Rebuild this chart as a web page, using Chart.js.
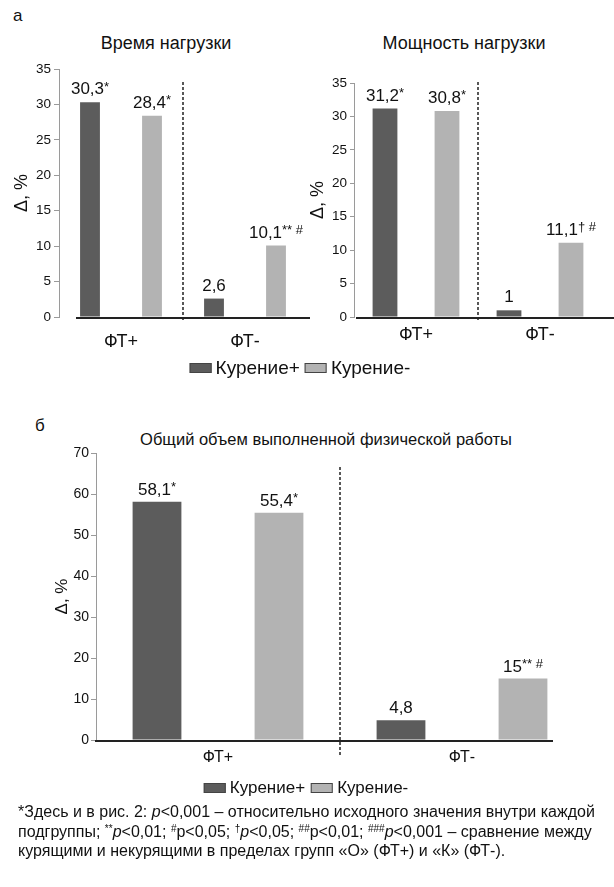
<!DOCTYPE html>
<html lang="ru">
<head>
<meta charset="utf-8">
<script src="https://cdn.jsdelivr.net/npm/chart.js@4.4.1/dist/chart.umd.min.js"></script>
<style>
  html, body { margin: 0; padding: 0; background: #fff; }
  body { width: 614px; height: 887px; position: relative; overflow: hidden;
         font-family: "Liberation Sans", Arial, sans-serif; color: #111; }
  .abs { position: absolute; }
  .c { transform: translate(-50%, -50%); white-space: nowrap; }
  .panel { position: absolute; }
  .legend { position: absolute; display: flex; align-items: center; white-space: nowrap; transform: translate(-50%, -50%); }
  .box { display: inline-block; border: 1px solid #444; box-sizing: border-box; }
  .foot { position: absolute; left: 18px; top: 802px; font-size: 16px; line-height: 19.5px; white-space: nowrap; color: #111; }
  .foot sup { font-size: 10px; vertical-align: 5px; line-height: 0; }
</style>
</head>
<body>
<div class="abs" style="left:13px; top:6px; font-size:17px;">а</div>
<div class="abs c" style="left:166px; top:43px; font-size:18px;">Время нагрузки</div>
<div class="abs c" style="left:464px; top:43px; font-size:18px;">Мощность нагрузки</div>

<div class="panel" style="left:0; top:50px;"><canvas id="chA1" width="310" height="310"></canvas></div>
<div class="panel" style="left:300px; top:50px;"><canvas id="chA2" width="314" height="310"></canvas></div>

<div class="legend" id="legA" style="left:300px; top:368px; font-size:19px;"></div>

<div class="abs" style="left:35px; top:416px; font-size:17px;">б</div>
<div class="abs c" style="left:326px; top:439px; font-size:16.5px;">Общий объем выполненной физической работы</div>

<div class="panel" style="left:0; top:410px;"><canvas id="chB" width="614" height="370"></canvas></div>

<div class="legend" id="legB" style="left:306px; top:788px; font-size:17px;"></div>

<div class="foot">*Здесь и в рис. 2: <i>p</i>&lt;0,001 – относительно исходного значения внутри каждой<br>подгруппы; <sup>**</sup><i>p</i>&lt;0,01; <sup>#</sup>p&lt;0,05; <sup>†</sup><i>p</i>&lt;0,05; <sup>##</sup>p&lt;0,01; <sup>###</sup><i>p</i>&lt;0,001 – сравнение между<br>курящими и некурящими в пределах групп «О» (ФТ+) и «К» (ФТ-).</div>

<script>
// ---------- data ----------
const categories = ['ФТ+', 'ФТ-'];
const seriesNames = ['Курение+', 'Курение-'];

const timeSmokers = [30.3, 2.6];
const timeNonSmokers = [28.4, 10.1];
const timeLabelsSmokers = ['30,3*', '2,6'];
const timeLabelsNonSmokers = ['28,4*', '10,1** #'];

const powerSmokers = [31.2, 1];
const powerNonSmokers = [30.8, 11.1];
const powerLabelsSmokers = ['31,2*', '1'];
const powerLabelsNonSmokers = ['30,8*', '11,1† #'];

const workSmokers = [58.1, 4.8];
const workNonSmokers = [55.4, 15];
const workLabelsSmokers = ['58,1*', '4,8'];
const workLabelsNonSmokers = ['55,4*', '15** #'];

const axisTitle = 'Δ, %';

// ---------- styles ----------
const FONT = '"Liberation Sans", Arial, sans-serif';
const DARK = '#5c5c5c';
const LIGHT = '#b3b3b3';
const TEXT = '#111';

// legends (HTML)
function buildLegend(id, boxW, boxH, gap) {
  const el = document.getElementById(id);
  const cols = [DARK, LIGHT];
  seriesNames.forEach((n, i) => {
    const b = document.createElement('span');
    b.className = 'box';
    b.style.width = boxW + 'px'; b.style.height = boxH + 'px';
    b.style.background = cols[i];
    b.style.marginRight = '4px';
    if (i > 0) b.style.marginLeft = gap + 'px';
    el.appendChild(b);
    const t = document.createElement('span');
    t.textContent = n;
    el.appendChild(t);
  });
}
buildLegend('legA', 22, 10, 5);
buildLegend('legB', 22, 10, 6);

// ---------- plugins ----------
// value labels: numeric part at full size, significance marks smaller and raised
const valueLabels = {
  id: 'valueLabels',
  afterDatasetsDraw(chart, args, opts) {
    const ctx = chart.ctx;
    const big = opts.size + 'px ' + FONT;
    const small = Math.round(opts.size * 0.78) + 'px ' + FONT;
    ctx.save();
    ctx.fillStyle = TEXT;
    ctx.textBaseline = 'alphabetic';
    ctx.textAlign = 'left';
    chart.data.datasets.forEach((ds, di) => {
      const meta = chart.getDatasetMeta(di);
      meta.data.forEach((bar, i) => {
        const txt = ds.valueLabels[i];
        const m = txt.match(/^[0-9,]+/);
        const main = m ? m[0] : txt;
        const suf = txt.slice(main.length);
        ctx.font = big; const w1 = ctx.measureText(main).width;
        ctx.font = small; const w2 = suf ? ctx.measureText(suf).width : 0;
        const x0 = bar.x - (w1 + w2) / 2;
        const base = bar.y - opts.offset + opts.size * 0.36;
        ctx.font = big; ctx.fillText(main, x0, base);
        if (suf) { ctx.font = small; ctx.fillText(suf, x0 + w1, base - opts.size * 0.22); }
      });
    });
    ctx.restore();
  }
};

const groupDivider = {
  id: 'groupDivider',
  afterDraw(chart, args, opts) {
    const {ctx, chartArea} = chart;
    const xs = chart.scales.x;
    const x = (xs.getPixelForValue(0) + xs.getPixelForValue(1)) / 2;
    ctx.save();
    ctx.strokeStyle = '#222';
    ctx.lineWidth = 1.5;
    ctx.setLineDash([3, 2]);
    ctx.beginPath();
    ctx.moveTo(x, chartArea.top + opts.topOffset);
    ctx.lineTo(x, chartArea.bottom + opts.bottomOffset);
    ctx.stroke();
    ctx.restore();
  }
};

const baseLine = {
  id: 'baseLine',
  afterDatasetsDraw(chart, args, opts) {
    const {ctx, chartArea} = chart;
    const y = chart.scales.y.getPixelForValue(0) + 1;
    ctx.save();
    ctx.strokeStyle = '#222';
    ctx.lineWidth = 2;
    ctx.beginPath();
    ctx.moveTo(chartArea.left + opts.startOffset, y);
    ctx.lineTo(chartArea.right + opts.endOffset, y);
    ctx.stroke();
    ctx.restore();
  }
};

function makeChart(id, cfg) {
  return new Chart(document.getElementById(id), {
    type: 'bar',
    data: {
      labels: categories,
      datasets: [
        { label: seriesNames[0], data: cfg.a, valueLabels: cfg.la, backgroundColor: DARK,
          barPercentage: cfg.barPct, categoryPercentage: 1 },
        { label: seriesNames[1], data: cfg.b, valueLabels: cfg.lb, backgroundColor: LIGHT,
          barPercentage: cfg.barPct, categoryPercentage: 1 }
      ]
    },
    options: {
      responsive: false,
      animation: false,
      events: [],
      layout: { padding: cfg.padding },
      plugins: {
        legend: { display: false },
        tooltip: { enabled: false },
        title: { display: false },
        valueLabels: { size: cfg.labelSize, offset: cfg.labelOffset },
        groupDivider: cfg.divider,
        baseLine: cfg.baseLine
      },
      scales: {
        x: {
          grid: { display: false, drawTicks: false },
          border: { display: false },
          ticks: { color: TEXT, font: { family: FONT, size: cfg.xFont }, padding: cfg.xPad },
          afterFit: s => { s.height = cfg.xHeight; }
        },
        y: {
          min: 0, max: cfg.max,
          ticks: { stepSize: cfg.step, color: TEXT, font: { family: FONT, size: cfg.yFont }, padding: cfg.yPad },
          grid: { drawOnChartArea: false, drawTicks: true, tickLength: cfg.tickLen, color: '#9a9a9a' },
          border: { display: true, color: '#9a9a9a', width: 1 },
          title: { display: true, text: axisTitle, color: TEXT, font: { family: FONT, size: cfg.titleFont },
                   padding: { top: cfg.titlePad, bottom: 0 } },
          afterFit: s => { s.width = cfg.yWidth; }
        }
      }
    },
    plugins: [valueLabels, groupDivider, baseLine]
  });
}

makeChart('chA1', {
  a: timeSmokers, b: timeNonSmokers, la: timeLabelsSmokers, lb: timeLabelsNonSmokers,
  barPct: 0.32, max: 35, step: 5,
  padding: { left: 0, right: 3, top: 19, bottom: 0 },
  xHeight: 43, xPad: 14, xFont: 18,
  yWidth: 59, yFont: 13.5, yPad: 3, tickLen: 5,
  titleFont: 18, titlePad: 11,
  labelSize: 17, labelOffset: 14,
  divider: { topOffset: 13, bottomOffset: 5 },
  baseLine: { startOffset: 17, endOffset: 21 }
});

makeChart('chA2', {
  a: powerSmokers, b: powerNonSmokers, la: powerLabelsSmokers, lb: powerLabelsNonSmokers,
  barPct: 0.40, max: 35, step: 5,
  padding: { left: 0, right: 12, top: 33, bottom: 0 },
  xHeight: 43, xPad: 7, xFont: 18,
  yWidth: 54, yFont: 13.5, yPad: 3, tickLen: 4,
  titleFont: 18, titlePad: 7,
  labelSize: 17, labelOffset: 14,
  divider: { topOffset: -1, bottomOffset: 5 },
  baseLine: { startOffset: 2, endOffset: 12 }
});

makeChart('chB', {
  a: workSmokers, b: workNonSmokers, la: workLabelsSmokers, lb: workLabelsNonSmokers,
  barPct: 0.40, max: 70, step: 10,
  padding: { left: 0, right: 30, top: 43, bottom: 0 },
  xHeight: 40, xPad: 8, xFont: 16,
  yWidth: 96, yFont: 14, yPad: 2, tickLen: 5,
  titleFont: 17, titlePad: 52,
  labelSize: 17, labelOffset: 13,
  divider: { topOffset: 14, bottomOffset: 15 },
  baseLine: { startOffset: -1, endOffset: -31 }
});
</script>
</body>
</html>
